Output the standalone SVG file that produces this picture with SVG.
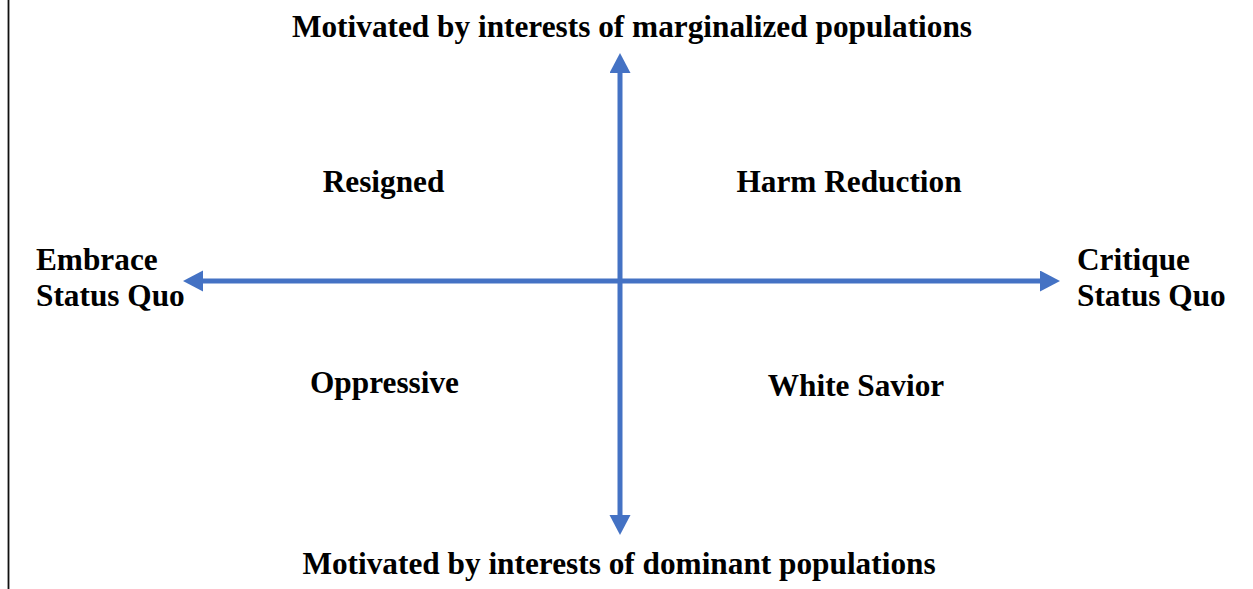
<svg xmlns="http://www.w3.org/2000/svg" width="1253" height="589" viewBox="0 0 1253 589">
  <style>
    .lbl { font-family: "Liberation Serif", "Times New Roman", serif; font-weight: bold; font-size: 31.3px; fill: #000; }
    .axis { stroke: #4472C4; stroke-width: 5; fill: none; }
  </style>
  <defs>
    <marker id="head" markerUnits="userSpaceOnUse" markerWidth="21" markerHeight="22" refX="0" refY="10.5" orient="auto-start-reverse" viewBox="0 0 21 22">
      <path d="M0,0 L20,10.5 L0,21 Z" fill="#4472C4"/>
    </marker>
  </defs>
  <rect width="1253" height="589" fill="#fff"/>
  <!-- frame edge on the left -->
  <line x1="8.5" y1="0" x2="8.5" y2="589" stroke="#111" stroke-width="1.8"/>

  <g id="connectors">
    <line class="axis" x1="620" y1="73" x2="620" y2="515" marker-start="url(#head)" marker-end="url(#head)"/>
    <line class="axis" x1="203" y1="281" x2="1040" y2="281" marker-start="url(#head)" marker-end="url(#head)"/>
  </g>

  <g id="top-label"><text class="lbl" x="632" y="37" text-anchor="middle">Motivated by interests of marginalized populations</text></g>
  <g id="bottom-label"><text class="lbl" x="619" y="574" text-anchor="middle">Motivated by interests of dominant populations</text></g>
  <g id="left-label"><text class="lbl" x="36" y="270">Embrace</text><text class="lbl" x="36" y="306">Status Quo</text></g>
  <g id="right-label"><text class="lbl" x="1077" y="270">Critique</text><text class="lbl" x="1077" y="306">Status Quo</text></g>
  <g id="resigned"><text class="lbl" x="383.5" y="192" text-anchor="middle">Resigned</text></g>
  <g id="harm-reduction"><text class="lbl" x="849" y="192" text-anchor="middle">Harm Reduction</text></g>
  <g id="oppressive"><text class="lbl" x="384.5" y="393" text-anchor="middle">Oppressive</text></g>
  <g id="white-savior"><text class="lbl" x="856" y="396" text-anchor="middle">White Savior</text></g>
</svg>
